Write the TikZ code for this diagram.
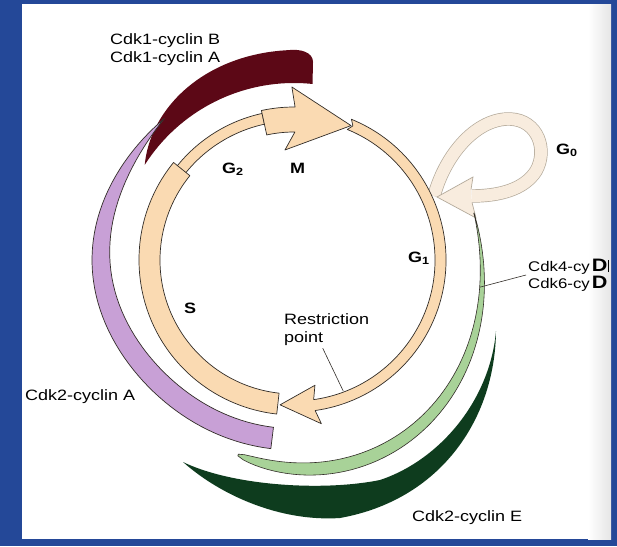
\documentclass[tikz,border=0pt]{standalone}
\usepackage{fontspec}
\setmainfont{Liberation Sans}[FakeStretch=1.2]
\usepackage{tikz}
\definecolor{PageBlue}{RGB}{36,72,152}
\definecolor{RingPeach}{RGB}{250,218,178}
\definecolor{LoopFill}{RGB}{248,236,222}
\definecolor{LoopEdge}{RGB}{180,170,155}
\definecolor{Edge}{RGB}{50,45,40}
\definecolor{CdkOne}{RGB}{92,8,22}
\definecolor{CdkTwoA}{RGB}{200,160,214}
\definecolor{CdkFour}{RGB}{168,210,152}
\definecolor{CdkTwoE}{RGB}{14,60,30}

\tikzset{
  band/.style={fill=RingPeach,draw=Edge,line width=0.7pt,line join=round},
  cdklabel/.style={inner sep=0pt,font=\fontsize{15}{18}\selectfont},
  phaselabel/.style={inner sep=0pt,font=\fontsize{15}{18}\selectfont\bfseries},
  declare function={
    purpout(\t)=190+12*exp(-(\t-180)*(\t-180)/1225);
    purpw(\t)=21.5*(1-((264.4-\t)/131.9)^4);
    greens(\t)=(14.6-\t)/120.7;
    greenc(\t)=186+25*(sin(125*greens(\t)))^2;
    greenh(\t)=6.5*(sin(180*greens(\t)^2.2)+0.0002)^0.4;
    reds(\t)=(\t-91.1)/56.4;
    redout(\t)=210-5*reds(\t)-28*reds(\t)^3;
  },
}

\begin{document}
\begin{tikzpicture}[x=1pt,y=-1pt]
  % page
  \fill[PageBlue] (0,0) rectangle (617,546);
  \fill[white] (22,4) rectangle (611,539);
  \shade[left color=white,right color=black!10] (588,4) rectangle (611,539);

  % G0 loop
  \draw[draw=LoopEdge,line width=0.7pt,double=LoopFill,double distance=12pt]
    (434,196) .. controls (446,152) and (478,118) .. (510,119)
    .. controls (538,120) and (548,150) .. (536,171)
    .. controls (524,190) and (498,196) .. (472,196);
  \filldraw[fill=LoopFill,draw=LoopEdge,line width=0.7pt]
    (471,189.5) -- (473,177) -- (437,197) -- (476,218) -- (472,202.5);

  \begin{scope}[shift={(294,260)}]
    % Cdk1 cyclins
    \fill[CdkOne] (147.5:177pt) arc[start angle=147.5,end angle=84,radius=177pt]
      -- (19,-198) .. controls (19,-208) and (6,-211) .. (-4,-210)
      -- plot[domain=91.1:147.5,samples=40] ({\x}:{redout(\x)*1pt}) -- cycle;
    % Cdk2-cyclin A
    \filldraw[fill=CdkTwoA,draw=Edge,line width=0.7pt]
      plot[domain=132.5:263,samples=60] ({\x}:{purpout(\x)*1pt})
      -- plot[domain=263:132.5,samples=60] ({\x}:{(purpout(\x)-purpw(\x))*1pt}) -- cycle;
    % Cdk4/6-cyclin D
    \filldraw[fill=CdkFour,draw=Edge,line width=0.6pt]
      plot[domain=14.6:-106,samples=70] ({\x}:{(greenc(\x)+greenh(\x))*1pt})
      -- plot[domain=-106:14.6,samples=70] ({\x}:{(greenc(\x)-greenh(\x))*1pt}) -- cycle;
  \end{scope}

  % Cdk2-cyclin E
  \fill[CdkTwoE] (496,331) .. controls (495,420) and (440,500) .. (340,518)
    .. controls (280,522) and (220,495) .. (183,462)
    .. controls (230,485) and (320,492) .. (380,480)
    .. controls (440,460) and (490,400) .. (496,331) -- cycle;

  \begin{scope}[shift={(294,260)}]
    % cycle ring: G2, S, G1, M
    \filldraw[band] (102.3:150pt) arc[start angle=102.3,end angle=142,radius=150pt]
      -- (142:139pt) arc[start angle=142,end angle=102.3,radius=139pt] -- cycle;
    \filldraw[band] (141:155pt) arc[start angle=141,end angle=263.6,radius=155pt]
      -- (263.6:134pt) arc[start angle=263.6,end angle=141,radius=134pt] -- cycle;
    \filldraw[band] (67.8:152pt) arc[start angle=67.8,end angle=-82,radius=152pt]
      -- (-80.5:166pt) -- (-95.5:145.5pt) -- (-80.5:127pt)
      -- (-82:141pt) arc[start angle=-82,end angle=67.8,radius=141pt] -- (66.3:146.5pt) -- cycle;
    \filldraw[band] (102.3:153pt) arc[start angle=102.3,end angle=89.6,radius=153pt]
      -- (90.7:173pt) -- (67:146pt) -- (94.7:110.4pt)
      -- (89.6:128pt) arc[start angle=89.6,end angle=102.3,radius=128pt] -- cycle;

    \coordinate (rpend) at (-69.4:140pt);
    \coordinate (dtick) at (-8.3:188pt);
  \end{scope}

  % labels
  \node[cdklabel,align=left,anchor=west] (cdkBA) at (110,50) {Cdk1-cyclin B\\Cdk1-cyclin A};
  \node[cdklabel,anchor=base west] (cdkA) at (25,400) {Cdk2-cyclin A};
  \node[cdklabel,anchor=base west] (cdkE) at (412,521) {Cdk2-cyclin E};
  \node[cdklabel,align=left,anchor=west] (restr) at (284,330) {Restriction\\point};
  \node[cdklabel,align=left,anchor=west,font=\fontsize{14}{17}\selectfont] (cdkD) at (528,275)
    {Cdk4-cy\kern2pt{\bfseries\fontsize{18}{18}\selectfont D}\kern1pt\rule[-1pt]{0.8pt}{12pt}\\
     Cdk6-cy\kern2pt{\bfseries\fontsize{18}{18}\selectfont D}};
  \node[phaselabel] (sph) at (190,308) {S};
  \node[phaselabel,anchor=base west] (gtwo) at (222,173) {G\textsubscript{2}};
  \node[phaselabel,anchor=base west] (mph) at (290,173) {M};
  \node[phaselabel,anchor=base west] (gone) at (408,262) {G\textsubscript{1}};
  \node[phaselabel,anchor=base west] (gzero) at (556,154) {G\textsubscript{0}};

  \draw[Edge,line width=0.6pt] ([xshift=-4pt,yshift=-2pt]restr.south) -- (rpend);
  \draw[Edge,line width=0.6pt] (dtick) -- ([xshift=-2pt]cdkD.west);
\end{tikzpicture}
\end{document}
